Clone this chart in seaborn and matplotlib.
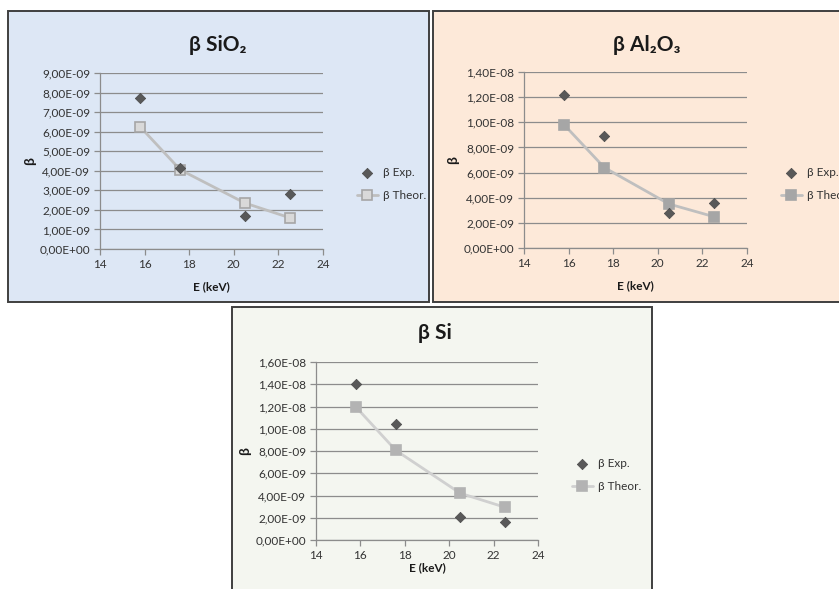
import numpy as np
import pandas as pd
import matplotlib
matplotlib.use('Agg')
import matplotlib.pyplot as plt
import seaborn as sns
from matplotlib.patches import Rectangle
from matplotlib.ticker import FuncFormatter, MultipleLocator

# values
energy = [15.8, 17.6, 20.5, 22.5]

sio2_exp = [7.70e-9, 4.15e-9, 1.70e-9, 2.80e-9]
sio2_theor = [6.25e-9, 4.05e-9, 2.35e-9, 1.60e-9]

al2o3_exp = [1.22e-8, 8.90e-9, 2.80e-9, 3.60e-9]
al2o3_theor = [9.80e-9, 6.40e-9, 3.50e-9, 2.50e-9]

si_exp = [1.40e-8, 1.045e-8, 2.05e-9, 1.65e-9]
si_theor = [1.195e-8, 8.05e-9, 4.20e-9, 2.95e-9]

titles = ['β SiO₂', 'β Al₂O₃', 'β Si']
y_max = [9e-9, 1.4e-8, 1.6e-8]
y_step = [1e-9, 2e-9, 2e-9]

W, H = 839, 589

sns.set_theme(style='white')
plt.rcParams['font.family'] = ['Lato', 'DejaVu Sans']


def fx(px):
    return px / W


def fy(py):
    return 1 - py / H


def sci_comma(v, _pos):
    return f'{v:.2E}'.replace('.', ',')


fig = plt.figure(figsize=(W / 100, H / 100), dpi=100)
fig.patch.set_facecolor('white')

# panel frames: (x0, y0, x1, y1) in px, background colour
frames = [
    ((8, 11, 429, 302), '#dde7f5'),
    ((433, 11, 850, 302), '#fde9d9'),
    ((232, 307, 652, 600), '#f4f6f0'),
]
for (x0, y0, x1, y1), col in frames:
    fig.patches.append(Rectangle((fx(x0), fy(y1)), fx(x1 - x0), (y1 - y0) / H,
                                 transform=fig.transFigure, facecolor=col,
                                 edgecolor='#3f3f3f', linewidth=1.4, zorder=-5))

# axes boxes in px (x0, y0 top, x1, y1 bottom)
boxes = [(100, 73, 323, 249), (524, 72, 747, 248), (316, 362, 538, 540)]
title_pos = [(218, 45), (647, 45), (435, 333)]
ylabel_x = [30, 453, 245]
xlabel_y = [287, 286, 568]
legend_pos = [(352, 184), (776, 184), (567, 475)]
sq_face = ['#d9d9d9', '#a6a6a6', '#b3b3b3']
sq_edge = ['#a6a6a6', '#a6a6a6', '#b3b3b3']
line_col = ['#bfbfbf', '#bfbfbf', '#d0d0d0']
exp_sets = [sio2_exp, al2o3_exp, si_exp]
theor_sets = [sio2_theor, al2o3_theor, si_theor]

for i in range(3):
    x0, y0, x1, y1 = boxes[i]
    ax = fig.add_axes([fx(x0), fy(y1), fx(x1 - x0), (y1 - y0) / H])
    ax.set_zorder(2)
    ax.set_facecolor('none')

    df = pd.DataFrame({'E': energy, 'exp': exp_sets[i], 'theor': theor_sets[i]})
    sns.lineplot(data=df, x='E', y='theor', ax=ax, color=line_col[i], linewidth=2,
                 marker='s', markersize=7.5, markerfacecolor=sq_face[i],
                 markeredgecolor=sq_edge[i], markeredgewidth=1.2,
                 label='β Theor.', zorder=3)
    sns.scatterplot(data=df, x='E', y='exp', ax=ax, marker='D', s=28,
                    color='#595959', edgecolor='#4a4a4a', linewidth=0.5,
                    label='β Exp.', zorder=4)

    ax.set_xlim(14, 24)
    ax.set_ylim(0, y_max[i])
    ax.xaxis.set_major_locator(MultipleLocator(2))
    ax.yaxis.set_major_locator(MultipleLocator(y_step[i]))
    ax.yaxis.set_major_formatter(FuncFormatter(sci_comma))
    ax.grid(axis='y', color='#8c8c8c', linewidth=0.9)
    ax.set_axisbelow(True)
    for s in ('top', 'right'):
        ax.spines[s].set_visible(False)
    for s in ('left', 'bottom'):
        ax.spines[s].set_color('#8c8c8c')
        ax.spines[s].set_linewidth(0.9)
    ax.tick_params(axis='both', direction='out', length=4, width=0.9,
                   color='#8c8c8c', labelsize=8.5, labelcolor='#333333',
                   left=True, bottom=True, pad=3)
    ax.set_xlabel('')
    ax.set_ylabel('')

    tx, ty = title_pos[i]
    fig.text(fx(tx), fy(ty), titles[i], ha='center', va='center',
             fontsize=15, fontweight='bold', color='#1a1a1a')
    fig.text(fx(ylabel_x[i]), fy((y0 + y1) / 2), 'β', ha='center', va='center',
             rotation=90, fontsize=10, fontweight='bold', color='#1a1a1a')
    fig.text(fx((x0 + x1) / 2), fy(xlabel_y[i]), 'E (keV)', ha='center',
             va='center', fontsize=8.5, fontweight='bold', color='#1a1a1a')

    handles, labels = ax.get_legend_handles_labels()
    order = [labels.index('β Exp.'), labels.index('β Theor.')]
    lx, ly = legend_pos[i]
    ax.legend([handles[k] for k in order], [labels[k] for k in order],
              loc='center left', bbox_to_anchor=(fx(lx), fy(ly)),
              bbox_transform=fig.transFigure, frameon=False, fontsize=8.5,
              labelcolor='#333333', handlelength=1.8, labelspacing=1.0,
              handletextpad=0.4, borderaxespad=0)

fig.savefig('out.png', dpi=100)
